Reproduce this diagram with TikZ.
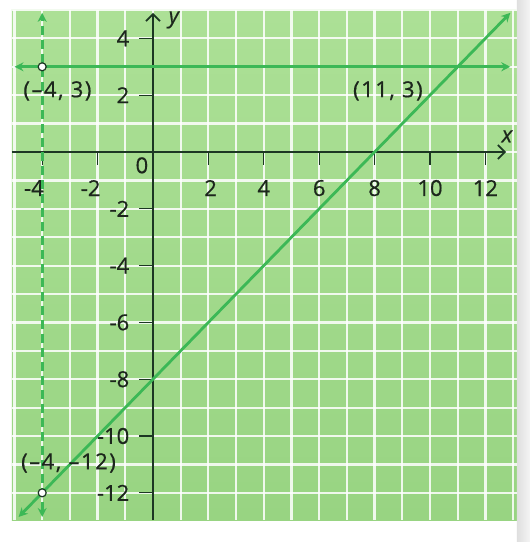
\documentclass[tikz,border=0pt]{standalone}
\usepackage{fontspec}
\setmainfont{Open Sans}[FakeBold=0.6, AutoFakeBold=0.6]
\usetikzlibrary{arrows.meta}
\definecolor{bggreen}{RGB}{152,212,130}
\definecolor{bglight}{RGB}{172,224,150}
\definecolor{lgreen}{RGB}{60,184,86}
\definecolor{axcol}{RGB}{28,55,35}
\definecolor{txt}{RGB}{28,38,28}
\tikzset{
  gline/.style={lgreen, line width=2.8pt},
  axis/.style={axcol, line width=1.8pt},
  tk/.style={axcol, line width=1.1pt},
  lbl/.style={text=txt, font=\fontsize{22}{24}\selectfont, inner sep=0pt},
  clbl/.style={text=txt, font=\fontsize{22}{24}\selectfont\addfontfeature{LetterSpace=7}, inner sep=0pt},
  opendot/.style={circle, draw=axcol, fill=white, line width=1.2pt, minimum size=8pt, inner sep=0pt},
}
\begin{document}
\begin{tikzpicture}[x=27.7pt,y=28.4pt]
\useasboundingbox (-5.523,5.352) rectangle (13.610,-13.732);
% background
\fill[white] (-5.523,5.352) rectangle (13.610,-13.732);
\shade[top color=bglight, bottom color=bggreen] (-5.09,5.0) rectangle (13.14,-12.96);
\shade[left color=gray!25, right color=gray!8] (13.14,5.352) rectangle (13.610,-13.732);
% grid
\foreach \i in {-5,...,13} \draw[white, opacity=0.85, line width=2.2pt] (\i,5.0) -- (\i,-12.96);
\foreach \j in {-12,...,5} \draw[white, opacity=0.85, line width=2.2pt] (-5.09,\j) -- (13.14,\j);
% axes
\coordinate (xl) at (-5.09,0);
\coordinate (xr) at (12.75,0);
\coordinate (yb) at (0,-12.96);
\coordinate (yt) at (0,4.9);
\draw[axis, -{Straight Barb[length=7pt,width=14pt]}] (xl) -- (xr);
\draw[axis, -{Straight Barb[length=7pt,width=14pt]}] (yb) -- (yt);
\node[lbl, font=\fontsize{22}{24}\selectfont\itshape] (xlab) at (12.78,0.55) {x};
\node[lbl, font=\fontsize{22}{24}\selectfont\itshape] (ylab) at (0.75,4.65) {y};
% x ticks
\foreach \v in {-4,-2,2,4,6,8,10,12} {
  \draw[tk] (\v,0) -- (\v,-0.45);
}
\foreach \v/\s/\o in {-4/-4/-0.3,-2/-2/-0.25,2/2/0.08,4/4/0,6/6/0,8/8/0,10/10/0,12/12/0} {
  \node[lbl] (xt\v) at (\v+\o,-1.27) {\s};
}
\node[lbl] (zero) at (-0.4,-0.47) {0};
% y ticks
\foreach \v in {4,2,-2,-4,-6,-8,-10,-12} {
  \draw[tk] (-0.5,\v) -- (0,\v);
  \node[lbl, anchor=east] (yt\v) at (-0.85,\v) {\v};
}
% lines
\coordinate (h1) at (-5.0,3);
\coordinate (h2) at (12.9,3);
\coordinate (d1) at (-4.85,-12.85);
\coordinate (d2) at (12.9,4.9);
\coordinate (v1) at (-4,4.9);
\coordinate (v2) at (-4,-12.85);
\draw[gline, {Stealth[length=9pt,width=9pt]}-{Stealth[length=9pt,width=9pt]}] (h1) -- (h2);
\draw[gline, {Stealth[length=9pt,width=9pt]}-{Stealth[length=9pt,width=9pt]}] (d1) -- (d2);
\draw[gline, dash pattern=on 9pt off 5pt, {Stealth[length=9pt,width=9pt]}-{Stealth[length=9pt,width=9pt]}] (v2) -- (v1);
% points
\node[opendot] (p1) at (-4,3) {};
\node[opendot] (p2) at (-4,-12) {};
\node[clbl] (l1) at (-3.45,2.15) {(–4, 3)};
\node[clbl] (l2) at (8.48,2.15) {(11, 3)};
\node[clbl] (l3) at (-3.05,-10.95) {(–4, –12)};
\end{tikzpicture}
\end{document}
